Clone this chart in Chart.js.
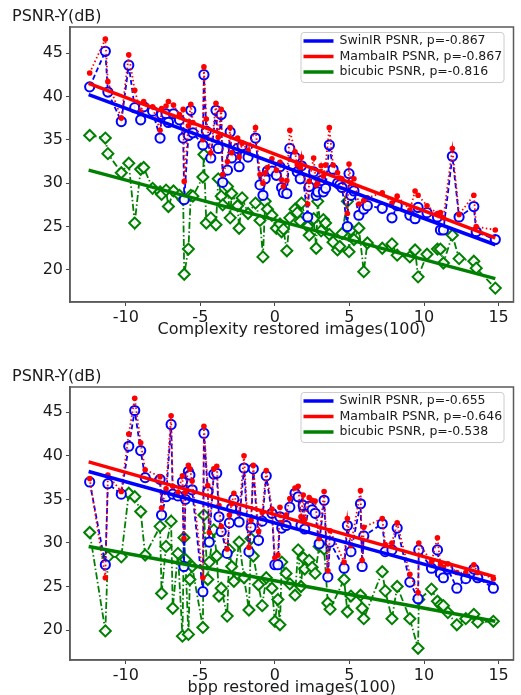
<!DOCTYPE html>
<html><head><meta charset="utf-8">
<script src="https://cdn.jsdelivr.net/npm/chart.js@4.4.0/dist/chart.umd.min.js"></script>
<style>
html,body{margin:0;padding:0;background:#fff;width:521px;height:695px;overflow:hidden;position:relative}
canvas{position:absolute;left:0}
</style></head><body>
<canvas id="c1" width="521" height="350" style="top:0"></canvas>
<canvas id="c2" width="521" height="350" style="top:350px"></canvas>
<script>
// ---------- tick labels ----------
const xTicks = [-10, -5, 0, 5, 10, 15];
const yTicks = [20, 25, 30, 35, 40, 45];
const yLabel = 'PSNR-Y(dB)';
const topXTitle = 'Complexity restored images(100)';
const botXTitle = 'bpp restored images(100)';
const seriesNames = ['SwinIR PSNR', 'MambaIR PSNR', 'bicubic PSNR'];
const topRho = ['-0.867', '-0.867', '-0.816'];
const botRho = ['-0.655', '-0.646', '-0.538'];

// ---------- top chart: complexity ----------
const topX = [-12.42,-11.37,-11.2,-10.3,-9.8,-9.4,-9.0,-8.8,-8.2,-7.7,
-7.6,-7.3,-7.14,-6.8,-6.4,-6.15,-6.08,-5.8,-5.64,-5.5,
-4.83,-4.76,-4.6,-4.3,-3.95,-3.8,-3.6,-3.5,-3.18,-3.0,
-2.9,-2.5,-2.4,-2.2,-1.8,-1.3,
-1.0,-0.8,-0.65,-0.5,-0.2,0.1,0.34,0.45,0.57,0.8,
1.0,1.35,1.5,1.7,1.78,2.2,2.3,2.6,2.77,2.87,
3.1,3.25,3.4,3.65,3.9,4.2,4.35,4.5,4.86,4.97,5.1,5.3,
5.63,5.96,6.2,7.2,7.85,8.2,9.05,9.4,9.6,10.2,
10.9,11.1,11.3,11.9,12.35,13.34,13.5,14.78];
const topSwin = [41.1,45.2,40.5,37.1,43.6,38.7,37.3,38.8,38.3,35.2,
37.9,38.0,37.0,38.0,37.3,35.2,28.1,35.5,38.4,35.8,
34.4,42.5,36.0,32.9,38.4,34.0,37.9,30.1,31.5,35.9,
32.9,34.0,31.9,34.3,33.0,35.2,
29.8,28.6,30.5,31.4,31.4,30.9,31.9,29.5,28.9,28.8,
34.0,33.0,31.3,30.5,32.0,26.1,29.6,31.3,28.6,29.0,
30.3,29.0,29.4,34.4,31.6,30.0,29.8,29.5,25.0,31.1,28.6,29.1,
26.3,27.0,27.4,27.1,26.0,27.4,26.3,25.9,27.2,26.6,
26.1,24.6,24.6,33.1,26.1,27.3,24.4,23.5];
const topMamba = [42.7,46.6,41.7,37.5,44.8,40.7,38.2,39.4,38.8,36.1,
38.6,38.9,39.4,39.0,37.9,38.5,30.2,36.6,39.1,37.0,
35.0,43.4,37.4,33.5,39.2,35.3,38.5,31.0,32.5,36.4,
33.5,35.2,33.0,34.6,33.8,36.4,
31.0,30.0,31.2,31.8,32.8,31.5,32.4,30.4,29.6,30.3,
36.1,33.6,32.1,31.8,33.0,27.6,30.2,32.9,29.8,30.0,
32.0,30.8,32.1,36.4,32.1,31.2,30.6,30.5,26.5,32.2,30.0,30.5,
27.6,28.0,28.3,28.9,27.7,28.5,26.9,29.1,28.6,27.4,
26.5,26.6,26.0,34.0,26.4,28.6,25.0,24.6];
const topBicubic = [35.5,35.2,33.4,31.2,32.3,25.4,31.6,31.8,29.4,29.0,
28.7,29.2,27.3,29.1,28.6,28.1,19.5,22.4,28.6,28.5,
30.7,33.3,25.4,26.0,25.2,30.5,28.5,27.5,29.6,26.0,
28.8,27.4,24.8,28.3,26.5,27.7,
25.7,21.5,27.9,27.0,26.3,24.8,25.3,24.4,24.7,22.2,
26.0,27.0,26.6,25.6,27.7,25.0,24.0,25.9,22.5,27.9,
24.5,25.8,25.4,24.1,23.2,22.3,22.7,24.2,27.9,22.1,24.6,23.5,
24.8,19.8,23.1,22.5,23.0,21.7,21.5,22.3,19.2,21.8,
22.4,22.4,20.8,24.0,21.3,21.0,20.2,17.9];
const topFitX = [-12.49, 14.78];
const topFitSwin = [40.2, 22.9];
const topFitMamba = [41.5, 23.7];
const topFitBicubic = [31.5, 19.0];

// ---------- bottom chart: bpp ----------
const botX = [-12.42,-11.37,-11.2,-10.3,-9.8,-9.4,-9.0,-8.7,-7.7,-7.6,
-7.3,-6.96,-6.85,-6.5,-6.2,-6.1,-6.0,-5.8,-5.7,-5.55,
-4.83,-4.76,-4.5,-4.4,-4.1,-3.9,-3.75,-3.6,-3.2,-3.05,
-2.9,-2.75,-2.4,-2.07,-1.74,-1.6,-1.45,-1.1,-0.85,-0.58,
-0.2,0.0,0.2,0.34,0.46,0.75,1.0,1.35,1.56,1.75,
1.9,2.0,2.3,2.5,2.7,2.97,3.3,3.55,3.7,4.64,
4.86,5.1,5.74,5.85,5.96,7.2,7.4,7.85,8.2,9.05,
9.6,9.65,10.5,10.9,11.1,11.3,11.6,12.2,12.8,13.34,
13.6,14.65];
const botSwin = [37.0,27.5,36.8,35.6,41.1,45.2,40.6,37.5,37.3,33.2,
35.3,43.6,35.6,35.4,37.0,27.3,35.0,38.2,37.8,36.1,
24.4,42.6,35.9,30.1,37.9,38.0,33.0,31.3,28.8,32.3,
34.0,35.0,32.4,38.6,29.0,31.8,38.5,30.3,32.5,37.7,
33.4,27.5,27.5,33.0,31.7,32.0,34.1,35.7,35.3,32.0,
34.3,31.6,34.2,33.8,33.4,29.9,34.9,26.1,30.1,27.1,
32.0,29.0,34.5,27.3,30.8,32.2,29.0,29.2,31.7,25.5,
23.6,29.2,27.1,29.2,26.5,26.0,27.0,24.8,25.9,27.0,
26.0,24.8];
const botMamba = [37.4,26.0,37.8,35.9,42.5,46.6,41.5,38.4,37.6,34.0,
36.2,44.6,36.5,35.8,37.7,30.5,35.8,38.9,38.5,37.1,
26.0,43.4,36.6,31.2,38.5,38.8,34.3,31.9,29.3,33.2,
34.5,35.7,33.4,40.0,29.5,32.6,38.9,31.3,33.5,38.3,
33.9,28.3,28.6,34.1,32.3,33.2,35.1,36.3,36.5,33.0,
35.5,32.7,35.2,34.9,34.8,30.5,35.9,26.8,31.4,27.8,
32.8,29.7,36.0,28.0,31.8,32.8,29.8,30.0,32.3,26.4,
24.3,30.0,27.8,30.6,27.5,27.2,27.6,26.6,26.6,27.5,
26.6,25.9];
const botBicubic = [31.2,19.9,28.4,28.4,35.7,35.3,33.6,28.6,31.9,24.2,
29.6,32.5,22.5,28.8,19.3,30.6,28.1,19.5,25.8,27.3,
20.3,33.2,25.8,27.8,31.5,28.5,23.9,24.8,21.6,29.2,
27.3,25.6,30.1,26.0,22.3,30.5,28.5,25.2,22.8,26.0,
24.8,21.0,23.5,20.6,27.8,26.5,25.3,24.0,29.2,25.0,
28.3,27.0,28.0,27.2,26.5,29.6,29.3,23.1,22.4,25.8,
22.1,23.9,24.0,22.5,21.3,26.7,24.5,21.3,25.0,21.3,
17.9,23.5,24.7,23.3,22.9,22.8,22.0,20.6,21.3,21.8,
20.9,21.0];
const botFitX = [-12.49, 14.78];
const botFitSwin = [38.2, 25.3];
const botFitMamba = [39.3, 26.1];
const botFitBicubic = [29.6, 21.0];

// ---------- rendering ----------
const BLUE = '#0000ff', RED = '#ff0000', GREEN = '#008000';
const COLORS = [BLUE, RED, GREEN];
const FONT = 'DejaVu Sans';
const TXT = '#1a1a1a';

const pts = (xs, ys) => xs.map((x, i) => ({x: x, y: ys[i]}));

function buildDatasets(X, swin, mamba, bic, fx, fs, fm, fb) {
  return [
    {data: pts(fx, fm), showLine: true, borderColor: RED, borderWidth: 3.5, pointRadius: 0, order: 0},
    {data: pts(fx, fs), showLine: true, borderColor: BLUE, borderWidth: 3.5, pointRadius: 0, order: 1},
    {data: pts(fx, fb), showLine: true, borderColor: GREEN, borderWidth: 3.5, pointRadius: 0, order: 2},
    {data: pts(X, mamba), showLine: true, borderColor: RED, borderWidth: 1.8, borderDash: [1.5, 2.5],
     pointStyle: 'circle', pointRadius: 2.8, pointBackgroundColor: RED, pointBorderColor: RED, pointBorderWidth: 0, order: 3},
    {data: pts(X, swin), showLine: true, borderColor: BLUE, borderWidth: 1.8, borderDash: [5, 3],
     pointStyle: 'circle', pointRadius: 4.6, pointBackgroundColor: 'rgba(255,255,255,0.9)', pointBorderColor: BLUE, pointBorderWidth: 2, order: 4},
    {data: pts(X, bic), showLine: true, borderColor: GREEN, borderWidth: 1.8, borderDash: [7, 2.5, 1.5, 2.5],
     pointStyle: 'rectRot', pointRadius: 5.5, pointBackgroundColor: 'rgba(255,255,255,0.9)', pointBorderColor: GREEN, pointBorderWidth: 2, order: 5}
  ];
}

const deco = {
  id: 'deco',
  afterDraw(chart, args, o) {
    const ctx = chart.ctx, a = chart.chartArea;
    ctx.save();
    ctx.strokeStyle = '#5a5a5a'; ctx.lineWidth = 1.5;
    ctx.strokeRect(a.left, a.top, a.right - a.left, a.bottom - a.top);
    ctx.fillStyle = TXT; ctx.font = '16px "' + FONT + '"';
    ctx.textAlign = 'left'; ctx.textBaseline = 'middle';
    ctx.fillText(yLabel, 12, o.labelY);
    // legend
    const bx = a.right - 213, by = a.top + 5, bw = 203, bh = 50;
    ctx.fillStyle = 'rgba(255,255,255,0.85)';
    ctx.strokeStyle = '#cccccc'; ctx.lineWidth = 1;
    ctx.beginPath();
    if (ctx.roundRect) ctx.roundRect(bx + 0.5, by + 0.5, bw, bh, 3); else ctx.rect(bx + 0.5, by + 0.5, bw, bh);
    ctx.fill(); ctx.stroke();
    ctx.font = '12.5px "' + FONT + '"';
    for (let i = 0; i < 3; i++) {
      const yy = by + 9 + i * 15.5;
      ctx.strokeStyle = COLORS[i]; ctx.lineWidth = 3.5; ctx.setLineDash([]);
      ctx.beginPath(); ctx.moveTo(bx + 3, yy); ctx.lineTo(bx + 33, yy); ctx.stroke();
      ctx.fillStyle = TXT;
      ctx.fillText(seriesNames[i] + ', p=' + o.rho[i], bx + 39, yy);
    }
    ctx.restore();
  }
};

function makeChart(id, datasets, xTitle, ymin, ymax, pad, xAxisH, titlePB, labelY, rho) {
  new Chart(document.getElementById(id), {
    type: 'scatter',
    data: {datasets: datasets},
    options: {
      responsive: false, animation: false,
      layout: {padding: pad},
      plugins: {legend: {display: false}, tooltip: {enabled: false}, deco: {labelY: labelY, rho: rho}},
      elements: {line: {tension: 0}},
      scales: {
        x: {
          type: 'linear', min: -13.74, max: 16,
          afterBuildTicks: s => { s.ticks = xTicks.map(v => ({value: v})); },
          afterFit: s => { s.height = xAxisH; },
          grid: {drawOnChartArea: false, drawTicks: true, tickLength: 4, color: '#444'},
          border: {display: true, color: '#5a5a5a', width: 1.5},
          ticks: {padding: 2, color: TXT, font: {family: FONT, size: 16}, maxRotation: 0, autoSkip: false},
          title: {display: true, text: xTitle, color: TXT, font: {family: FONT, size: 16}, padding: {top: 0, bottom: titlePB}}
        },
        y: {
          type: 'linear', min: ymin, max: ymax,
          afterBuildTicks: s => { s.ticks = yTicks.map(v => ({value: v})); },
          afterFit: s => { s.width = 70; },
          grid: {drawOnChartArea: false, drawTicks: true, tickLength: 4, color: '#444'},
          border: {display: true, color: '#5a5a5a', width: 1.5},
          ticks: {padding: 3, color: TXT, font: {family: FONT, size: 16}, autoSkip: false}
        }
      }
    },
    plugins: [deco]
  });
}

makeChart('c1', buildDatasets(topX, topSwin, topMamba, topBicubic, topFitX, topFitSwin, topFitMamba, topFitBicubic),
  topXTitle, 16.3, 48.0, {top: 27, right: 1, bottom: 0, left: 0}, 48, 11, 17, topRho);
makeChart('c2', buildDatasets(botX, botSwin, botMamba, botBicubic, botFitX, botFitSwin, botFitMamba, botFitBicubic),
  botXTitle, 16.56, 47.9, {top: 37, right: 2, bottom: 0, left: 0}, 40, 3, 27, botRho);
</script>
</body></html>
